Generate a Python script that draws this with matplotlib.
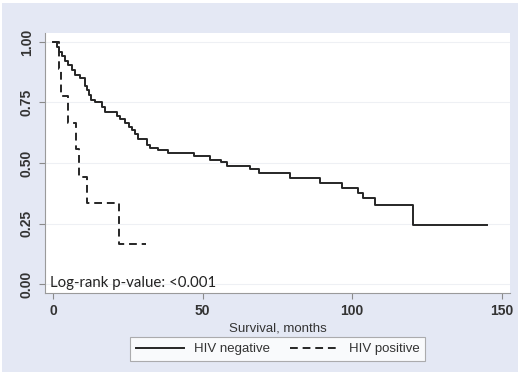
import matplotlib
matplotlib.use("Agg")
import matplotlib.pyplot as plt
from matplotlib.patches import Rectangle

# ---- data ----
neg_time = [0, 1.2, 2.0, 2.9, 4.0, 5.1, 6.3, 7.4, 9.0, 10.7, 11.3, 12.0, 12.6, 14.0,
            16.3, 17.4, 21.3, 22.5, 24.0, 25.5, 26.5, 27.4, 28.4, 31.3, 32.4, 35.0,
            38.5, 47.0, 52.5, 56.0, 58.0, 66.0, 68.7, 79.3, 89.3, 96.5, 102.0,
            103.5, 107.7, 120.2]
neg_surv = [1.0, 0.98, 0.96, 0.94, 0.92, 0.905, 0.885, 0.865, 0.85, 0.82, 0.80, 0.78,
            0.76, 0.75, 0.733, 0.71, 0.695, 0.68, 0.665, 0.65, 0.635, 0.62, 0.60,
            0.574, 0.56, 0.554, 0.54, 0.527, 0.512, 0.503, 0.488, 0.474, 0.46,
            0.438, 0.416, 0.396, 0.375, 0.355, 0.326, 0.245]
neg_end = 145.0

pos_time = [0, 2.0, 2.5, 5.0, 7.7, 8.7, 11.4, 22.0]
pos_surv = [1.0, 0.889, 0.778, 0.667, 0.556, 0.444, 0.333, 0.167]
pos_end = 31.0

x_ticks = [0, 50, 100, 150]
y_ticks = [0.00, 0.25, 0.50, 0.75, 1.00]
y_ticklabels = ["0.00", "0.25", "0.50", "0.75", "1.00"]
labels = ["HIV negative", "HIV positive"]
x_label = "Survival, months"
annot = "Log-rank p-value: <0.001"

# ---- figure ----
W, H = 520, 377
fig = plt.figure(figsize=(W / 100, H / 100), dpi=100, facecolor="white")
bg = Rectangle((2 / W, 1 - 372 / H), 516 / W, 369 / H,
               transform=fig.transFigure, facecolor="#E4E8F4",
               edgecolor="none", zorder=-10)
fig.add_artist(bg)

ax = fig.add_axes([45 / W, 1 - 293 / H, 465 / W, 260 / H])
ax.set_facecolor("white")
ax.set_zorder(1)

lc = "#262626"
ax.step(neg_time + [neg_end], neg_surv + [neg_surv[-1]], where="post",
        color=lc, lw=1.4, label=labels[0], zorder=3)
ax.step(pos_time + [pos_end], pos_surv + [pos_surv[-1]], where="post",
        color=lc, lw=1.4, ls=(0, (4, 2.5)), label=labels[1], zorder=3)

ax.set_xlim(-2.7, 152.8)
ax.set_ylim(-0.037, 1.037)

ax.set_xticks(x_ticks)
ax.set_yticks(y_ticks)
ax.set_yticklabels(y_ticklabels, rotation=90, va="center")
for y in y_ticks:
    ax.axhline(y, color="#EEF0F4", lw=0.8, zorder=1)

font = "Liberation Sans"
ax.tick_params(axis="x", length=4, width=0.8, color="#8a8a8a", pad=4,
               labelsize=10, labelcolor="#333333")
ax.tick_params(axis="y", length=4, width=0.8, color="#8a8a8a", pad=4,
               labelsize=10, labelcolor="#333333")
for lab in ax.get_xticklabels() + ax.get_yticklabels():
    lab.set_fontfamily(font)
    lab.set_fontweight("bold")

for s in ["top", "right"]:
    ax.spines[s].set_visible(False)
for s in ["left", "bottom"]:
    ax.spines[s].set_color("#9a9a9a")
    ax.spines[s].set_linewidth(0.8)

ax.set_xlabel(x_label, fontsize=9.5, family=font, color="#333333", labelpad=3)

ax.text(-1.0, 0.004, annot, fontsize=10.8, family="Lato", color="#222222",
        va="center", ha="left", zorder=4)

leg = fig.legend(loc="center", bbox_to_anchor=(277.5 / W, 1 - 349 / H),
                 bbox_transform=fig.transFigure, ncol=2, frameon=True,
                 fancybox=False, handlelength=3.7, handletextpad=0.75,
                 columnspacing=1.5, borderpad=0.45,
                 prop={"family": font, "size": 9.5})
leg.get_frame().set_edgecolor("#9a9a9a")
leg.get_frame().set_linewidth(0.8)
for t in leg.get_texts():
    t.set_color("#333333")

fig.savefig("out.png", dpi=100, facecolor="white")
